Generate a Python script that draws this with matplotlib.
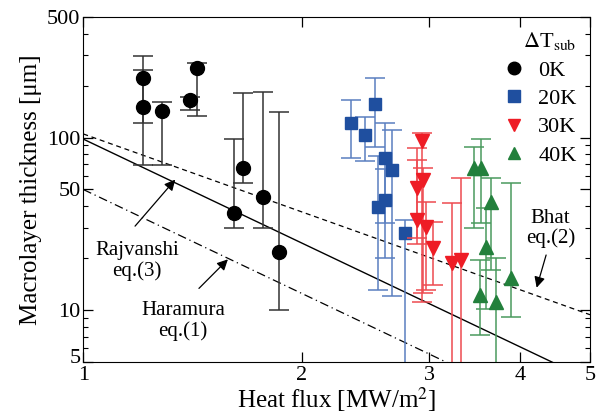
import numpy as np
import matplotlib.pyplot as plt
import matplotlib.transforms as mtransforms
from matplotlib.ticker import FixedLocator, NullFormatter, NullLocator, LogLocator

plt.rcParams['font.family'] = ['Liberation Serif', 'DejaVu Serif']
plt.rcParams['mathtext.fontset'] = 'stix'

# 0K
x0 = [1.209, 1.209, 1.284, 1.404, 1.435, 1.614, 1.66, 1.769, 1.86]
y0 = [222, 151, 143, 166, 254, 36.4, 66.2, 45, 21.7]
hi0 = [298, 247, 161, 172, 271, 98.6, 182, 184, 141]
lo0 = [122, 69, 69, 145, 134, 29.8, 54.2, 29.8, 10]
# 20K
x20 = [2.337, 2.443, 2.522, 2.61, 2.669, 2.554, 2.61, 2.78]
y20 = [122, 104, 157, 76.6, 65.2, 39.4, 43.7, 27.9]
hi20 = [166, 132, 222, 122, 111, 78, 66, 33.1]
lo20 = [76.6, 73.6, 88.7, 20, 12.0, 13.0, 31.8, 1]
# 30K
x30 = [2.936, 2.94, 2.89, 2.89, 2.973, 3.04, 3.23, 3.32]
y30 = [96, 56.4, 50.7, 33.1, 30.2, 22.8, 18.7, 19.5]
hi30 = [107, 67, 87.5, 74.4, 42.2, 32.2, 41.5, 58]
lo30 = [11.1, 12.6, 26.1, 24, 13, 14, 1, 1]
# 40K
x40 = [3.46, 3.54, 3.65, 3.59, 3.53, 3.71, 3.89]
y40 = [67, 67, 42.2, 23.1, 12.2, 11.1, 15.3]
hi40 = [88.7, 98.6, 58.6, 39, 19.5, 20, 54.2]
lo40 = [29.8, 32, 17, 10.1, 7.2, 1, 9.1]

# correlations: coefficient, exponent
haramura = (50, -2.0)
rajvanshi = (98, -2.0)
bhat = (105, -1.5)

fig = plt.figure(figsize=(5.99, 4.16), dpi=100)
ax = fig.add_axes([0.139, 0.13, 0.846, 0.829])

q = np.linspace(1, 5, 200)
ax.plot(q, haramura[0] * q ** haramura[1], color='black', lw=0.9, ls=(0, (7, 3, 1, 3)))
ax.plot(q, rajvanshi[0] * q ** rajvanshi[1], color='black', lw=1.0, ls='-')
ax.plot(q, bhat[0] * q ** bhat[1], color='black', lw=0.9, ls=(0, (4, 3)))

groups = [
    (x0, y0, lo0, hi0, 'o', 'black', '#333333', '0K', 10),
    (x20, y20, lo20, hi20, 's', '#1f4f9f', '#5a7fc0', '20K', 9),
    (x30, y30, lo30, hi30, 'v', '#ee1c25', '#ee4a50', '30K', 10),
    (x40, y40, lo40, hi40, '^', '#23803c', '#4a9a5e', '40K', 10),
]
for xs, ys, lo, hi, m, c, ec, lab, ms in groups:
    ys_a = np.array(ys)
    err = [ys_a - np.array(lo), np.array(hi) - ys_a]
    ax.errorbar(xs, ys, yerr=err, fmt='none', ecolor=ec, elinewidth=1.1,
                capsize=7, capthick=1.1)
    ax.plot(xs, ys, ls='none', marker=m, color=c, markersize=ms, label=lab)

ax.set_xscale('log')
ax.set_yscale('log')
ax.set_xlim(1, 5)
ax.set_ylim(5, 500)

ax.xaxis.set_major_locator(FixedLocator([1, 2, 3, 4, 5]))
ax.xaxis.set_major_formatter(plt.FixedFormatter(['1', '2', '3', '4', '5']))
ax.xaxis.set_minor_locator(NullLocator())
ax.yaxis.set_major_locator(FixedLocator([5, 10, 50, 100, 500]))
ax.yaxis.set_major_formatter(plt.FixedFormatter(['5', '10', '50', '100', '500']))
ax.yaxis.set_minor_locator(LogLocator(base=10, subs=np.arange(2, 10)))
ax.yaxis.set_minor_formatter(NullFormatter())
ax.tick_params(which='both', direction='in', top=True, right=True, labelsize=16)
ax.tick_params(which='major', length=7, width=0.9)
ax.tick_params(which='minor', length=3.5, width=0.8)
ax.tick_params(axis='x', pad=3)
ax.tick_params(axis='y', pad=2)

# lift the lowest y label a little so it clears the "1" below it
fig.canvas.draw()
lift = mtransforms.ScaledTranslation(0, 4 / 72, fig.dpi_scale_trans)
ylab5 = ax.yaxis.get_majorticklabels()[0]
ylab5.set_transform(ylab5.get_transform() + lift)

ax.set_xlabel('Heat flux [MW/m$^2$]', fontsize=18, labelpad=0)
ax.set_ylabel('Macrolayer thickness [μm]', fontsize=18, labelpad=4)

arrow = dict(arrowstyle='-|>', color='black', lw=0.9, mutation_scale=16)
ax.text(1.186, 19.2, 'Rajvanshi\neq.(3)', ha='center', va='center', fontsize=15, linespacing=1.05)
ax.annotate('', xy=(1.347, 58.7), xytext=(1.172, 29.8), arrowprops=arrow)
ax.text(1.372, 8.64, 'Haramura\neq.(1)', ha='center', va='center', fontsize=15, linespacing=1.05)
ax.annotate('', xy=(1.593, 20.2), xytext=(1.435, 13.0), arrowprops=arrow)
ax.text(4.41, 29.8, 'Bhat\neq.(2)', ha='center', va='center', fontsize=15, linespacing=1.05)
ax.annotate('', xy=(4.21, 13.0), xytext=(4.36, 21.6), arrowprops=arrow)

leg = ax.legend(loc='upper right', frameon=False, fontsize=16, title=r'$\Delta$T$_{\rm sub}$',
                title_fontsize=16, handletextpad=0.5, borderaxespad=0.2,
                labelspacing=0.35, handlelength=1.2, markerscale=0.9)
leg._legend_box.align = 'right'
for t in leg.get_texts():
    t.set_ha('right')

fig.savefig('out.png', dpi=100)
